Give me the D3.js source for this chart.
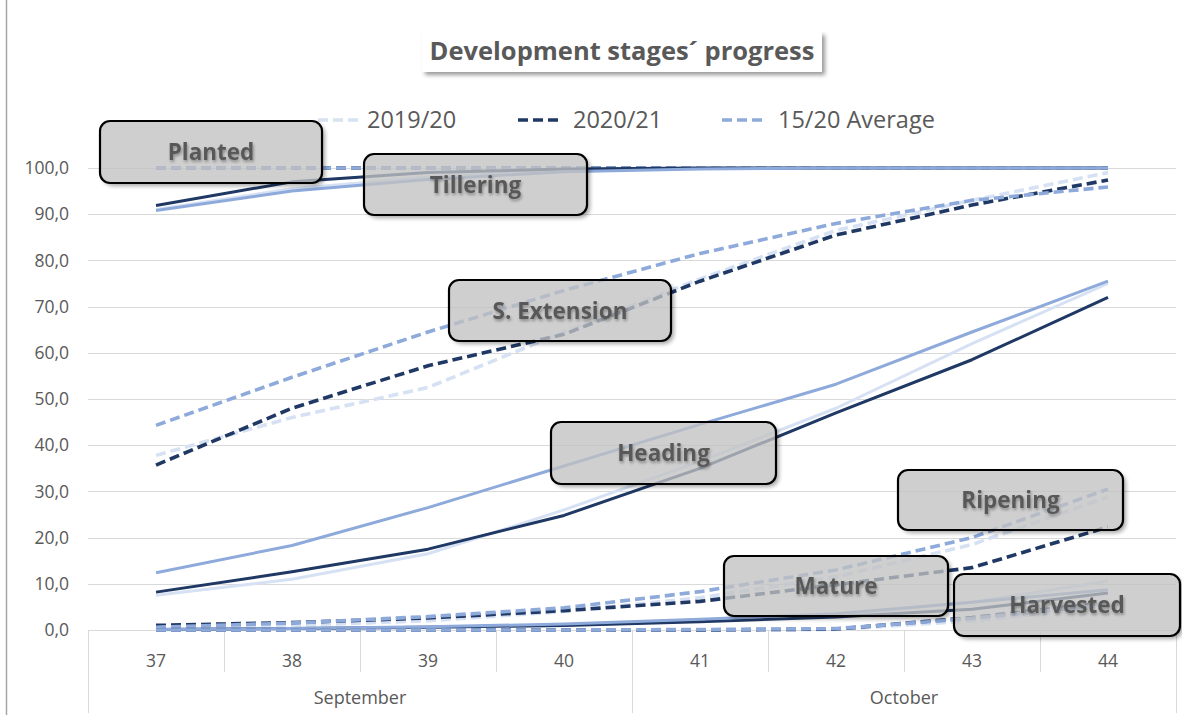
<!DOCTYPE html>
<html>
<head>
<meta charset="utf-8">
<script src="https://cdn.jsdelivr.net/npm/d3@7"></script>
<style>
  html, body { margin: 0; padding: 0; background: #fff; }
  svg { display: block; font-family: "Open Sans", "Noto Sans", sans-serif; }
</style>
</head>
<body>
<svg id="chart" width="1182" height="715"></svg>
<script>
// ---------- DATA ----------
const weeks = ["37", "38", "39", "40", "41", "42", "43", "44"];
const months = [
  { name: "September", weeks: ["37", "38", "39", "40"] },
  { name: "October", weeks: ["41", "42", "43", "44"] }
];
const yTicks = [0, 10, 20, 30, 40, 50, 60, 70, 80, 90, 100];
const seriesNames = ["2019/20", "2020/21", "15/20 Average"];

// Planted (dashed)
const planted_1920 = [100, 100, 100, 100, 100, 100, 100, 100];
const planted_2021 = [100, 100, 100, 100, 100, 100, 100, 100];
const planted_avg  = [100, 100, 100, 100, 100, 100, 100, 100];
// Tillering (solid)
const tillering_1920 = [91.0, 95.5, 98.0, 99.5, 100, 100, 100, 100];
const tillering_2021 = [91.9, 97.0, 99.0, 99.8, 100, 100, 100, 100];
const tillering_avg  = [90.8, 95.0, 97.5, 99.2, 99.8, 100, 100, 100];
// S. Extension (dashed)
const extension_1920 = [37.8, 46.0, 52.5, 64.5, 76.0, 86.5, 93.0, 99.0];
const extension_2021 = [35.7, 48.0, 57.2, 64.0, 75.5, 85.5, 92.0, 97.4];
const extension_avg  = [44.3, 54.7, 64.5, 73.5, 81.5, 88.0, 93.0, 95.9];
// Heading (solid)
const heading_1920 = [7.5, 11.0, 16.5, 26.0, 36.5, 48.0, 62.0, 75.0];
const heading_2021 = [8.2, 12.6, 17.5, 24.8, 35.0, 47.0, 58.5, 72.0];
const heading_avg  = [12.4, 18.3, 26.5, 35.5, 44.5, 53.2, 64.5, 75.5];
// Ripening (dashed)
const ripening_1920 = [0.4, 1.0, 2.0, 4.0, 7.0, 11.5, 18.5, 28.8];
const ripening_2021 = [1.0, 1.6, 2.6, 4.2, 6.2, 9.8, 13.5, 22.3];
const ripening_avg  = [0.6, 1.5, 2.9, 4.8, 8.3, 13.0, 20.0, 30.5];
// Mature (solid)
const mature_1920 = [0.0, 0.2, 0.5, 1.0, 2.0, 3.2, 6.0, 10.6];
const mature_2021 = [0.1, 0.3, 0.6, 1.0, 1.8, 2.8, 4.5, 8.0];
const mature_avg  = [0.1, 0.3, 0.7, 1.3, 2.3, 3.5, 6.0, 8.7];
// Harvested (dashed)
const harvested_1920 = [0, 0, 0, 0, 0, 0.1, 2.0, 5.0];
const harvested_2021 = [0, 0, 0, 0, 0, 0.2, 2.7, 6.0];
const harvested_avg  = [0, 0, 0, 0, 0.1, 0.3, 2.5, 5.5];

const stages = [
  { name: "Planted",     dashed: true,  values: [planted_1920, planted_2021, planted_avg] },
  { name: "Tillering",   dashed: false, values: [tillering_1920, tillering_2021, tillering_avg] },
  { name: "S. Extension",dashed: true,  values: [extension_1920, extension_2021, extension_avg] },
  { name: "Heading",     dashed: false, values: [heading_1920, heading_2021, heading_avg] },
  { name: "Ripening",    dashed: true,  values: [ripening_1920, ripening_2021, ripening_avg] },
  { name: "Mature",      dashed: false, values: [mature_1920, mature_2021, mature_avg] },
  { name: "Harvested",   dashed: true,  values: [harvested_1920, harvested_2021, harvested_avg] }
];

// ---------- STYLE / LAYOUT ----------
const colors = ["#d6e1f3", "#1f3864", "#8eaadb"];
const textColor = "#595959";
const plot = { left: 88, right: 1176, top: 168, bottom: 630 };

// label boxes: [x0, y0, x1, y1] in pixels
const boxes = {
  "Planted":      [100, 121, 322, 183],
  "Tillering":    [364, 154, 587, 215],
  "S. Extension": [449, 280, 671, 341],
  "Heading":      [551, 422, 776, 484],
  "Ripening":     [898, 470, 1123, 530],
  "Mature":       [724, 556, 948, 616],
  "Harvested":    [954, 574, 1180, 636]
};

const svg = d3.select("#chart");
const defs = svg.append("defs");
defs.append("filter").attr("id", "blur").attr("x", "-20%").attr("y", "-20%").attr("width", "140%").attr("height", "140%")
  .append("feGaussianBlur").attr("stdDeviation", 2.2);
const glow = defs.append("filter").attr("id", "glow").attr("x", "-10%").attr("y", "-30%").attr("width", "120%").attr("height", "160%");
glow.append("feGaussianBlur").attr("in", "SourceAlpha").attr("stdDeviation", 1.6).attr("result", "b");
glow.append("feOffset").attr("in", "b").attr("dx", 1).attr("dy", 1.5).attr("result", "o");
glow.append("feComponentTransfer").attr("in", "o").attr("result", "s")
  .append("feFuncA").attr("type", "linear").attr("slope", 0.35);
const gm = glow.append("feMerge");
gm.append("feMergeNode").attr("in", "s");
gm.append("feMergeNode").attr("in", "SourceGraphic");

const x = d3.scaleBand().domain(weeks).range([plot.left, plot.right]);
const y = d3.scaleLinear().domain([0, 100]).range([plot.bottom, plot.top]);
const cx = w => x(w) + x.bandwidth() / 2;

// chart left border
svg.append("line").attr("x1", 6.5).attr("x2", 6.5).attr("y1", 0).attr("y2", 715)
  .attr("stroke", "#a6a6a6").attr("stroke-width", 1.5);

// gridlines
svg.append("g").selectAll("line").data(yTicks).join("line")
  .attr("x1", plot.left).attr("x2", plot.right)
  .attr("y1", d => Math.round(y(d)) + 0.5).attr("y2", d => Math.round(y(d)) + 0.5)
  .attr("stroke", "#d9d9d9").attr("stroke-width", 1);

// y axis labels
const yAxis = d3.axisLeft(y).tickValues(yTicks).tickSize(0).tickPadding(0)
  .tickFormat(d => d3.format(".1f")(d).replace(".", ","));
const gy = svg.append("g").attr("transform", `translate(69,0)`).call(yAxis);
gy.select(".domain").remove();
gy.selectAll("text").attr("fill", textColor).style("font-size", "17.5px")
  .style("font-family", "'Open Sans', sans-serif");

// x axis: category labels
const xAxis = d3.axisBottom(x).tickSize(0).tickPadding(0);
const gx = svg.append("g").attr("transform", `translate(0,${plot.bottom})`).call(xAxis);
gx.select(".domain").remove();
gx.selectAll("text").attr("fill", textColor).attr("dy", 0).attr("y", 37)
  .style("font-size", "17.5px").style("font-family", "'Open Sans', sans-serif");

// category separators
const bounds = weeks.map(w => x(w)).concat([plot.right]);
svg.append("g").selectAll("line").data(bounds).join("line")
  .attr("x1", d => Math.round(d) + 0.5).attr("x2", d => Math.round(d) + 0.5)
  .attr("y1", plot.bottom).attr("y2", 672)
  .attr("stroke", "#d9d9d9");
// month separators + labels
const monthBounds = [x(months[0].weeks[0])].concat(months.map(m => x(m.weeks[m.weeks.length - 1]) + x.bandwidth()));
svg.append("g").selectAll("line").data(monthBounds).join("line")
  .attr("x1", d => Math.round(d) + 0.5).attr("x2", d => Math.round(d) + 0.5)
  .attr("y1", plot.bottom).attr("y2", 713)
  .attr("stroke", "#d9d9d9");
svg.append("g").selectAll("text").data(months).join("text")
  .attr("x", m => (x(m.weeks[0]) + x(m.weeks[m.weeks.length - 1]) + x.bandwidth()) / 2)
  .attr("y", 704)
  .attr("text-anchor", "middle").attr("fill", textColor)
  .style("font-size", "18px")
  .text(m => m.name);

// lines
const line = d3.line().x((d, i) => cx(weeks[i])).y(d => y(d));
const gLines = svg.append("g").attr("fill", "none");
stages.forEach(st => {
  st.values.forEach((vals, si) => {
    gLines.append("path")
      .attr("d", line(vals))
      .attr("stroke", colors[si])
      .attr("stroke-width", st.dashed ? 3.6 : 3)
      .attr("stroke-dasharray", st.dashed ? "10,5" : null)
      .attr("stroke-linejoin", "round");
  });
});

// legend
const legendItems = [
  { label: seriesNames[0], x0: 318, tx: 367 },
  { label: seriesNames[1], x0: 518, tx: 573 },
  { label: seriesNames[2], x0: 722, tx: 778 }
];
const gLeg = svg.append("g");
legendItems.forEach((it, i) => {
  gLeg.append("line").attr("x1", it.x0).attr("x2", it.x0 + 44).attr("y1", 120).attr("y2", 120)
    .attr("stroke", colors[i]).attr("stroke-width", 3.6).attr("stroke-dasharray", "10,5");
  gLeg.append("text").attr("x", it.tx).attr("y", 128).attr("fill", textColor)
    .style("font-size", "23.5px").text(it.label);
});

// annotation boxes
const gBoxes = svg.append("g");
stages.forEach((st, i) => {
  const [x0, y0, x1, y1] = boxes[st.name];
  const w = x1 - x0, h = y1 - y0;
  const mid = "m" + i;
  const mask = defs.append("mask").attr("id", mid).attr("maskUnits", "userSpaceOnUse")
    .attr("x", 0).attr("y", 0).attr("width", 1182).attr("height", 715);
  mask.append("rect").attr("width", 1182).attr("height", 715).attr("fill", "#fff");
  mask.append("rect").attr("x", x0).attr("y", y0).attr("width", w).attr("height", h).attr("rx", 10).attr("fill", "#000");
  gBoxes.append("rect").attr("x", x0 + 3).attr("y", y0 + 3).attr("width", w).attr("height", h).attr("rx", 10)
    .attr("fill", "#000").attr("opacity", 0.35).attr("filter", "url(#blur)").attr("mask", `url(#${mid})`);
  gBoxes.append("rect").attr("x", x0).attr("y", y0).attr("width", w).attr("height", h).attr("rx", 10)
    .attr("fill", "#c2c2c2").attr("fill-opacity", 0.78).attr("stroke", "#000").attr("stroke-width", 2.2);
  gBoxes.append("text").attr("x", (x0 + x1) / 2).attr("y", (y0 + y1) / 2 + 8)
    .attr("text-anchor", "middle").attr("fill", textColor).attr("filter", "url(#glow)")
    .style("font-size", "22.5px").style("font-weight", "700").text(st.name);
});

// title box
const title = "Development stages\u00b4 progress";
svg.append("rect").attr("x", 425).attr("y", 35).attr("width", 400).attr("height", 40)
  .attr("fill", "#000").attr("opacity", 0.4).attr("filter", "url(#blur)");
svg.append("rect").attr("x", 422).attr("y", 30).attr("width", 400).attr("height", 42).attr("fill", "#fff");
svg.append("text").attr("x", 622).attr("y", 60).attr("text-anchor", "middle")
  .attr("fill", textColor).style("font-size", "25.5px").style("font-weight", "700").text(title);
</script>
</body>
</html>
